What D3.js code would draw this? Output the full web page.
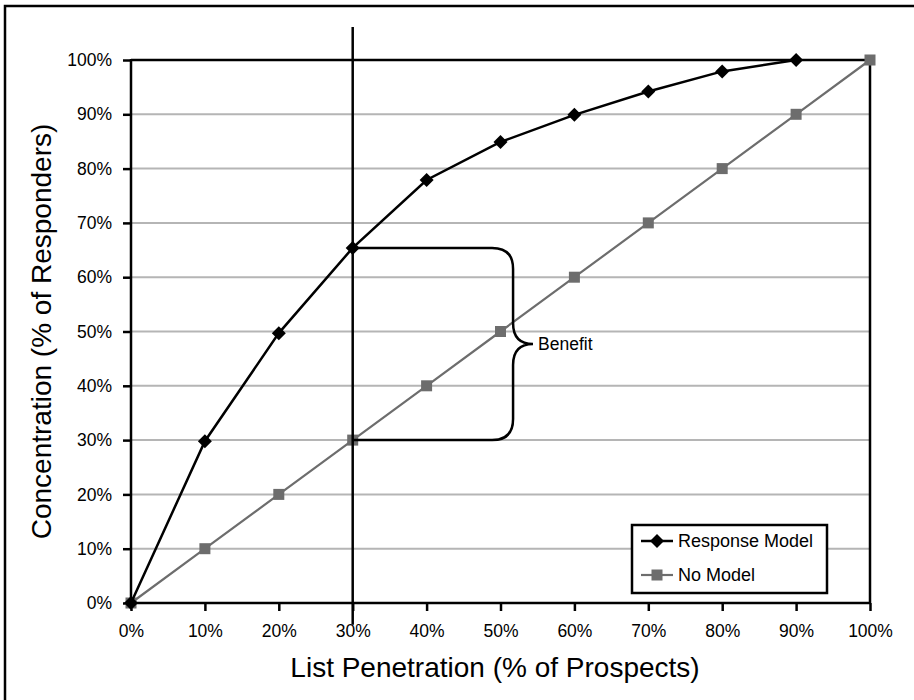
<!DOCTYPE html>
<html><head><meta charset="utf-8">
<script src="https://cdn.jsdelivr.net/npm/d3@7"></script>
<style>
body{margin:0;background:#fff}
svg{display:block}
text{font-family:"Liberation Sans",Arial,Helvetica,sans-serif;fill:#000}
</style>
</head><body>
<svg id="c" width="914" height="700"></svg>
<script>
// ---- data ----
const penetration   = [0,10,20,30,40,50,60,70,80,90,100];
const responseModel = [0,29.8,49.7,65.4,77.9,84.9,89.9,94.2,97.9,100];
const noModel       = [0,10,20,30,40,50,60,70,80,90,100];
const xTicks = [0,10,20,30,40,50,60,70,80,90,100];
const yTicks = [0,10,20,30,40,50,60,70,80,90,100];
const seriesNames = ["Response Model","No Model"];
const xTitle = "List Penetration (% of Prospects)";
const yTitle = "Concentration (% of Responders)";
const benefitLabel = "Benefit";

// ---- setup ----
const W=914,H=700;
const M={left:131,right:870,top:60,bottom:603};
const svg=d3.select("#c");
const x=d3.scaleLinear([0,100],[M.left,M.right]);
const y=d3.scaleLinear([0,100],[M.bottom,M.top]);
const GRAY="#6d6d6d", GRID="#b5b5b5";

// outer frame
svg.append("rect").attr("x",5).attr("y",6).attr("width",W+20).attr("height",H+20)
  .attr("fill","none").attr("stroke","#000").attr("stroke-width",2.5);

// gridlines
svg.append("g").selectAll("line").data(yTicks.filter(d=>d>0&&d<100)).join("line")
  .attr("x1",M.left).attr("x2",M.right).attr("y1",d=>y(d)).attr("y2",d=>y(d))
  .attr("stroke",GRID).attr("stroke-width",2);

// plot frame (top & right)
svg.append("path").attr("d",`M${x(0)},${y(100)}H${x(100)}V${y(0)}`)
  .attr("fill","none").attr("stroke","#000").attr("stroke-width",2.5);

// axes
const yAxis=d3.axisLeft(y).tickValues(yTicks).tickSize(8).tickPadding(11).tickFormat(d=>d+"%");
const gy=svg.append("g").attr("transform",`translate(${M.left},0)`).call(yAxis);
const xAxis=d3.axisBottom(x).tickValues(xTicks).tickSize(8).tickPadding(14).tickFormat(d=>d+"%");
const gx=svg.append("g").attr("transform",`translate(0,${M.bottom})`).call(xAxis);
[gx,gy].forEach(g=>{
  g.select(".domain").remove();
  g.selectAll(".tick line").attr("stroke","#000").attr("stroke-width",2.5);
  g.selectAll(".tick text").attr("font-size",17.5).attr("font-family","Liberation Sans, Arial, sans-serif").attr("fill","#000");
});
svg.append("line").attr("x1",x(0)).attr("x2",x(0)).attr("y1",y(100)-1).attr("y2",y(0)+1.2)
  .attr("stroke","#000").attr("stroke-width",2.5);
svg.append("line").attr("x1",x(0)-1).attr("x2",x(100)+1).attr("y1",y(0)).attr("y2",y(0))
  .attr("stroke","#000").attr("stroke-width",2.5);

// axis titles
svg.append("text").attr("x",495).attr("y",677).attr("text-anchor","middle")
  .attr("font-size",28).text(xTitle);
svg.append("text").attr("transform",`translate(51,${(y(0)+y(100))/2}) rotate(-90)`)
  .attr("text-anchor","middle").attr("font-size",28).text(yTitle);

// series
const line=d3.line().x(d=>x(d[0])).y(d=>y(d[1]));
const noPts=penetration.map((p,i)=>[p,noModel[i]]);
const respPts=responseModel.map((v,i)=>[penetration[i],v]);
const diamond=(cx,cy,r)=>`M${cx},${cy-r}L${cx+r},${cy}L${cx},${cy+r}L${cx-r},${cy}Z`;

svg.append("path").attr("d",line(noPts)).attr("fill","none").attr("stroke",GRAY).attr("stroke-width",2.2);
svg.append("g").selectAll("rect").data(noPts).join("rect")
  .attr("x",d=>x(d[0])-5.5).attr("y",d=>y(d[1])-5.5).attr("width",11).attr("height",11).attr("fill",GRAY);

svg.append("path").attr("d",line(respPts)).attr("fill","none").attr("stroke","#000").attr("stroke-width",2.5);
svg.append("g").selectAll("path").data(respPts).join("path")
  .attr("d",d=>diamond(x(d[0]),y(d[1]),7)).attr("fill","#000");

// vertical 30% line (runs past the axis into the tick label, as in the reference)
svg.append("line").attr("x1",x(30)).attr("x2",x(30)).attr("y1",y(106.1)).attr("y2",y(-4.0))
  .attr("stroke","#000").attr("stroke-width",2.5);

// benefit brace
const bx=x(51.7), tipX=x(54.4), r=21;
const yT=y(responseModel[3]), yB=y(noModel[3]), yM=(yT+yB)/2;
const brace=`M${x(30)},${yT}H${bx-r}Q${bx},${yT} ${bx},${yT+r}V${yM-r}Q${bx},${yM} ${tipX},${yM}`+
  `Q${bx},${yM} ${bx},${yM+r}V${yB-r}Q${bx},${yB} ${bx-r},${yB}H${x(30)}`;
svg.append("path").attr("d",brace).attr("fill","none").attr("stroke","#000").attr("stroke-width",2.5);
svg.append("text").attr("x",tipX+5).attr("y",yM+6).attr("font-size",17.5).text(benefitLabel);

// legend
const lg=svg.append("g");
lg.append("rect").attr("x",632).attr("y",525).attr("width",195).attr("height",68)
  .attr("fill","#fff").attr("stroke","#000").attr("stroke-width",2.5);
const rows=[{name:seriesNames[0],c:"#000",shape:"d",y:541},{name:seriesNames[1],c:GRAY,shape:"s",y:575}];
rows.forEach(r=>{
  lg.append("line").attr("x1",641).attr("x2",673).attr("y1",r.y).attr("y2",r.y)
    .attr("stroke",r.c).attr("stroke-width",r.shape==="d"?2.5:2.2);
  if(r.shape==="d") lg.append("path").attr("d",diamond(657,r.y,7)).attr("fill",r.c);
  else lg.append("rect").attr("x",657-5.5).attr("y",r.y-5.5).attr("width",11).attr("height",11).attr("fill",r.c);
  lg.append("text").attr("x",678).attr("y",r.y+6.3).attr("font-size",18).text(r.name);
});
</script>
</body></html>
